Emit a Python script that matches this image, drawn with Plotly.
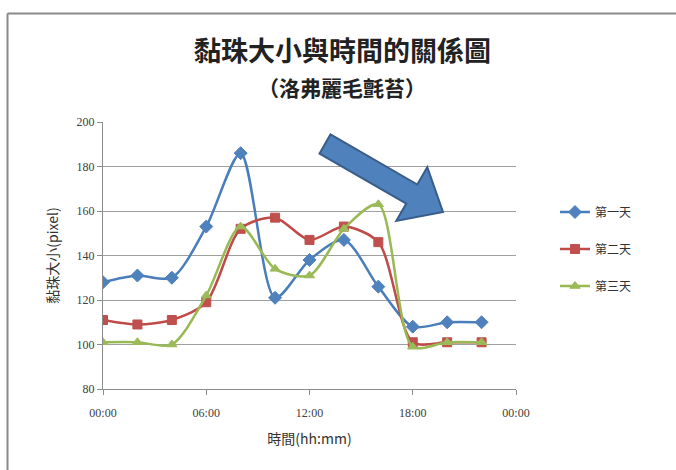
import plotly.graph_objects as go
import math

hours = [0, 2, 4, 6, 8, 10, 12, 14, 16, 18, 20, 22]
day1 = [128, 131, 130, 153, 186, 121, 138, 147, 126, 108, 110, 110]
day2 = [111, 109, 111, 119, 152, 157, 147, 153, 146, 101, 101, 101]
day3 = [101, 101, 100, 122, 153, 134, 131, 152, 163, 99, 101, 101]
series_names = ["第一天", "第二天", "第三天"]
tick_vals = [0, 6, 12, 18, 24]
tick_text = ["00:00", "06:00", "12:00", "18:00", "00:00"]

W, H = 676, 470
L, R, T, B = 103, 160, 122, 81
pw, ph = W - L - R, H - T - B

def px2paper(x, y):
    return (x - L) / pw, (H - B - y) / ph

styles = [
    dict(line="#4A7EBB", marker="#4F81BD", symbol="diamond", size=10),
    dict(line="#BE4B48", marker="#C0504D", symbol="square", size=9),
    dict(line="#98B954", marker="#9BBB59", symbol="triangle-up", size=9),
]

fig = go.Figure()
for name, vals, st in zip(series_names, [day1, day2, day3], styles):
    fig.add_trace(go.Scatter(
        x=hours, y=vals, name=name, legendgroup=name,
        mode="lines+markers",
        line=dict(color=st["line"], width=2.5, shape="spline", smoothing=0.8),
        marker=dict(symbol=st["symbol"], size=st["size"], color=st["marker"],
                    line=dict(color=st["marker"], width=1)),
    ))

# block arrow (annotation)
tail = (325, 144)
tip = (443, 212)
dx, dy = tip[0] - tail[0], tip[1] - tail[1]
ln = math.hypot(dx, dy)
ux, uy = dx / ln, dy / ln
nx, ny = -uy, ux
shaft_hw, head_hw, head_len = 11, 31, 36
bx, by = tip[0] - ux * head_len, tip[1] - uy * head_len
pts = [
    (tail[0] + nx * shaft_hw, tail[1] + ny * shaft_hw),
    (bx + nx * shaft_hw, by + ny * shaft_hw),
    (bx + nx * head_hw, by + ny * head_hw),
    tip,
    (bx - nx * head_hw, by - ny * head_hw),
    (bx - nx * shaft_hw, by - ny * shaft_hw),
    (tail[0] - nx * shaft_hw, tail[1] - ny * shaft_hw),
]
path = "M " + " L ".join("%.4f,%.4f" % px2paper(*p) for p in pts) + " Z"

shapes = [
    dict(type="path", xref="paper", yref="paper", path=path,
         fillcolor="#4F81BD", line=dict(color="#385D8A", width=2)),
]
# outer chart border (top and left visible)
x0, y0 = px2paper(7.5, 13.5)
x1, y1 = px2paper(W + 10, H + 10)
shapes.append(dict(type="line", xref="paper", yref="paper", x0=x0, y0=y0, x1=x1, y1=y0,
                   line=dict(color="#8a8a8a", width=2)))
shapes.append(dict(type="line", xref="paper", yref="paper", x0=x0, y0=y0, x1=x0, y1=y1,
                   line=dict(color="#8a8a8a", width=2)))

tx, ty = px2paper(342, 49)
sx, sy = px2paper(342, 87)
annotations = [
    dict(text="<b>黏珠大小與時間的關係圖</b>", xref="paper", yref="paper", x=tx, y=ty,
         showarrow=False, font=dict(size=27, color="#222", family="Noto Sans CJK TC"),
         xanchor="center", yanchor="middle"),
    dict(text="<b>（洛弗麗毛氈苔）</b>", xref="paper", yref="paper", x=sx, y=sy,
         showarrow=False, font=dict(size=21, color="#222", family="Noto Sans CJK TC"),
         xanchor="center", yanchor="middle"),
]

lx, ly = px2paper(555, 249)
fig.update_layout(
    width=W, height=H,
    margin=dict(l=L, r=R, t=T, b=B),
    paper_bgcolor="white", plot_bgcolor="white",
    showlegend=True,
    legend=dict(x=lx, y=ly, xanchor="left", yanchor="middle",
                font=dict(size=12, color="#333", family="Noto Sans CJK TC"),
                tracegroupgap=18, traceorder="grouped", itemwidth=30),
    xaxis=dict(range=[0, 24], tickvals=tick_vals, ticktext=tick_text,
               showgrid=False, showline=True, linecolor="#8c8c8c", linewidth=1,
               ticks="outside", ticklen=5, tickcolor="#8c8c8c",
               ticklabelstandoff=8,
               tickfont=dict(size=12, color="#404040", family="Liberation Serif"),
               title=dict(text="時間(hh:mm)", font=dict(size=14, color="#333", family="Noto Sans CJK TC"),
                          standoff=14),
               zeroline=False),
    yaxis=dict(range=[80, 200], dtick=20, showgrid=True, gridcolor="#a0a0a0", gridwidth=1,
               showline=True, linecolor="#8c8c8c", linewidth=1,
               ticks="outside", ticklen=5, tickcolor="#8c8c8c",
               tickfont=dict(size=12, color="#404040", family="Liberation Serif"),
               title=dict(text="黏珠大小(pixel)", font=dict(size=14, color="#333", family="Noto Sans CJK TC"),
                          standoff=14),
               zeroline=False),
    shapes=shapes,
    annotations=annotations,
)

fig.write_html("out.html")
